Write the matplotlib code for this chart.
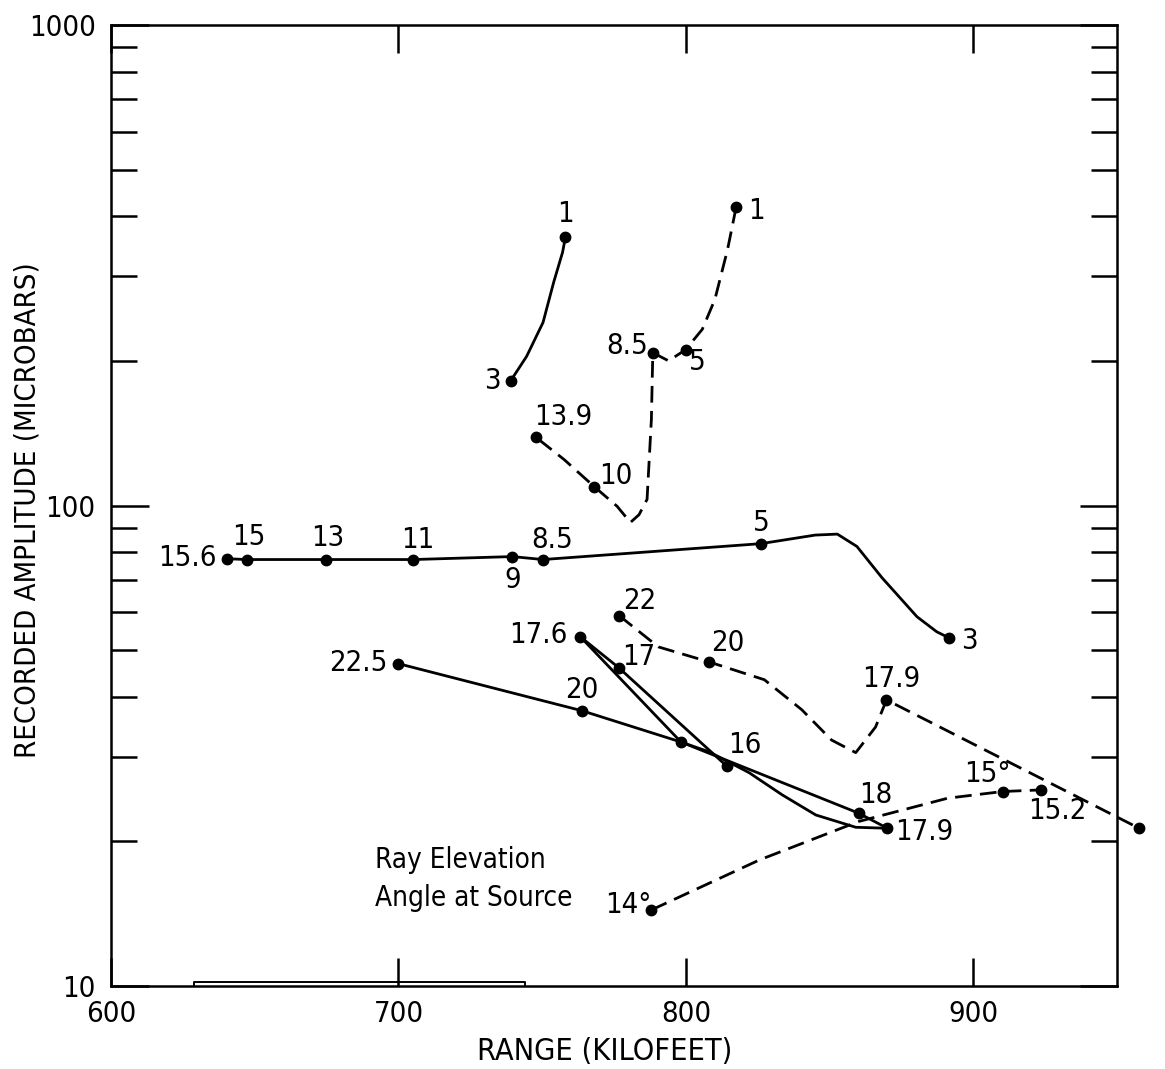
import matplotlib
matplotlib.use("Agg")
import matplotlib.pyplot as plt
from matplotlib.ticker import LogLocator, NullFormatter, FixedLocator

plt.rcParams['font.family'] = ['Liberation Sans Narrow', 'DejaVu Sans']
plt.rcParams['font.stretch'] = 'condensed'

# ---- data (range in kilofeet, amplitude in microbars) ----
# solid curve, rays 3 -> 1
a_path_x = [739.1, 744.6, 750.3, 754.0, 757.1, 758.1]
a_path_y = [182, 204.4, 240.4, 291.4, 336.5, 362]
a_x = [739.1, 758.1]
a_y = [182, 362]
a_lab = ['3', '1']

# dashed curve, rays 1 -> 13.9
b_path_x = [817.5, 814.5, 810.1, 805.7, 799.9, 794.0, 788.5, 788.0, 786.5,
            783.7, 780.7, 776.1, 768.1, 757.6, 747.9]
b_path_y = [418, 341, 268.5, 232.6, 211, 200, 208, 151, 103,
            95.7, 92.2, 99.6, 109.5, 124.7, 138.6]
b_x = [817.5, 799.9, 788.5, 768.1, 747.9]
b_y = [418, 211, 208, 109.5, 138.6]
b_lab = ['1', '5', '8.5', '10', '13.9']

# solid, nearly flat curve, rays 15.6 -> 3
c_path_x = [640.3, 647.2, 674.9, 705.2, 739.6, 750.3, 826.1, 845.0, 852.7,
            859.5, 868.2, 880.4, 887.3, 891.4]
c_path_y = [77.5, 77.2, 77.2, 77.2, 78.3, 77.2, 83.3, 86.8, 87.2,
            82.2, 70.8, 58.7, 54.6, 53.1]
c_x = [640.3, 647.2, 674.9, 705.2, 739.6, 750.3, 826.1, 891.4]
c_y = [77.5, 77.2, 77.2, 77.2, 78.3, 77.2, 83.3, 53.1]
c_lab = ['15.6', '15', '13', '11', '9', '8.5', '5', '3']

# solid loop, rays 22.5 -> 17.9 -> 17.6 -> 16
d1_path_x = [699.8, 763.9, 798.3, 860.1, 870.1]
d1_path_y = [46.9, 37.4, 32.2, 22.9, 21.3]
d2_path_x = [870.1, 859.1, 845.2, 833.5, 822.0, 808.2, 798.3, 763.3]
d2_path_y = [21.3, 21.4, 22.7, 25.0, 27.8, 30.7, 32.2, 53.3]
d3_path_x = [763.3, 776.6, 814.2]
d3_path_y = [53.3, 46.0, 28.7]
d_x = [699.8, 763.9, 798.3, 860.1, 870.1, 763.3, 776.6, 814.2]
d_y = [46.9, 37.4, 32.2, 22.9, 21.3, 53.3, 46.0, 28.7]
d_lab = ['22.5', '20', '', '18', '17.9', '17.6', '17', '16']

# dashed curve, rays 22 -> 17.9 -> 16
e_path_x = [776.8, 790.4, 807.9, 827.3, 840.3, 850.7, 859.1, 866.0, 869.8, 957.7]
e_path_y = [59.0, 50.8, 47.3, 43.4, 37.6, 32.5, 30.6, 34.6, 39.4, 21.3]
e_x = [776.8, 807.9, 869.8, 957.7]
e_y = [59.0, 47.3, 39.4, 21.3]
e_lab = ['22', '20', '17.9', '16']

# dashed curve, rays 14 -> 15.2
f_path_x = [788.0, 825.6, 860.1, 891.1, 910.2, 923.7]
f_path_y = [14.4, 18.3, 22.0, 24.6, 25.4, 25.6]
f_x = [788.0, 910.2, 923.7]
f_y = [14.4, 25.4, 25.6]
f_lab = ['14°', '15°', '15.2']

# label offsets from their dot, in pixels (right / up)
a_off = [(-18, 0), (0, 23)]
b_off = [(20, -4), (12, -12), (-26, 7), (22, 11), (27, 20)]
c_off = [(-39, 1), (2, 23), (1, 22), (4, 20), (0, -23), (9, 20), (0, 21), (21, -3)]
d_off = [(-40, 1), (0, 21), (0, 0), (17, 18), (37, -4), (-42, 2), (20, 11), (18, 21)]
e_off = [(21, 15), (19, 19), (5, 21), (3, 25)]
f_off = [(-23, 5), (-15, 18), (16, -21)]

# small bracket sitting on the bottom axis
box_x = [628.8, 628.8, 744.0, 744.0]
box_y = [10.0, 10.2, 10.2, 10.0]

FS = 21
LW = 2.0
DASH = (0, (6, 3))

fig = plt.figure(figsize=(11.65, 10.69), dpi=100)
ax = fig.add_axes([0.0953, 0.0776, 0.8635, 0.899])
ax.set_yscale('log')
ax.set_xlim(600, 950)
ax.set_ylim(10, 1000)

solid = dict(color='black', lw=LW, solid_capstyle='round', solid_joinstyle='round')
dashed = dict(color='black', lw=LW, linestyle=DASH, dash_joinstyle='round')

ax.plot(a_path_x, a_path_y, **solid)
ax.plot(b_path_x, b_path_y, **dashed)
ax.plot(c_path_x, c_path_y, **solid)
ax.plot(d1_path_x, d1_path_y, **solid)
ax.plot(d2_path_x, d2_path_y, **solid)
ax.plot(d3_path_x, d3_path_y, **solid)
ax.plot(e_path_x, e_path_y, clip_on=False, **dashed)
ax.plot(f_path_x, f_path_y, **dashed)
ax.plot(box_x, box_y, color='black', lw=1.4)

for xs, ys, labs, offs in [(a_x, a_y, a_lab, a_off), (b_x, b_y, b_lab, b_off),
                           (c_x, c_y, c_lab, c_off), (d_x, d_y, d_lab, d_off),
                           (e_x, e_y, e_lab, e_off), (f_x, f_y, f_lab, f_off)]:
    ax.plot(xs, ys, 'o', color='black', ms=7.5, clip_on=False)
    for x, y, t, (dx, dy) in zip(xs, ys, labs, offs):
        if t:
            ax.annotate(t, (x, y), xytext=(dx * 0.72, dy * 0.72),
                        textcoords='offset points', ha='center', va='center',
                        fontsize=FS)

ax.text(0.262, 0.131, 'Ray Elevation', transform=ax.transAxes,
        fontsize=FS - 1, va='center', ha='left')
ax.text(0.262, 0.092, 'Angle at Source', transform=ax.transAxes,
        fontsize=FS - 1, va='center', ha='left')

# axes / ticks
for s in ax.spines.values():
    s.set_linewidth(1.8)
ax.set_xticks([600, 700, 800, 900])
ax.set_xticklabels(['600', '700', '800', '900'])
ax.yaxis.set_major_locator(FixedLocator([10, 100, 1000]))
ax.set_yticklabels(['10', '100', '1000'])
ax.yaxis.set_minor_locator(LogLocator(base=10, subs=range(2, 10)))
ax.yaxis.set_minor_formatter(NullFormatter())
ax.tick_params(axis='x', which='major', direction='in', length=20, width=1.8,
               top=True, pad=10, labelsize=FS)
ax.tick_params(axis='y', which='major', direction='in', length=27, width=1.8,
               right=True, pad=11, labelsize=FS)
ax.tick_params(axis='y', which='minor', direction='in', length=19, width=1.8,
               right=True)

fig.text(605 / 1165, 1 - 1052 / 1069, 'RANGE (KILOFEET)', ha='center',
         va='center', fontsize=FS + 1)
fig.text(28 / 1165, 1 - 510 / 1069, 'RECORDED AMPLITUDE (MICROBARS)',
         rotation=90, ha='center', va='center', fontsize=FS)

fig.savefig('out.png', dpi=100)
